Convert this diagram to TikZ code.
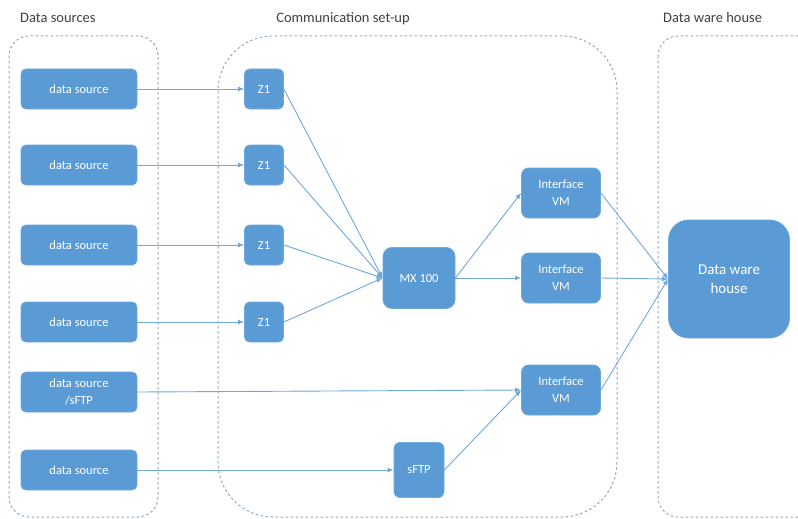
\documentclass[tikz,border=0pt]{standalone}
\usepackage{fontspec}
\setmainfont{Carlito}
\usetikzlibrary{arrows.meta}
\definecolor{boxblue}{HTML}{5B9BD5}
\definecolor{boxedge}{HTML}{6FA8DC}
\definecolor{linkblue}{HTML}{6FA8DC}
\definecolor{frameblue}{HTML}{8EA9C8}
\definecolor{titlegray}{HTML}{404040}
\tikzset{
  frame/.style={draw=frameblue, line width=1pt, dash pattern=on 2.5pt off 2.5pt},
  blockbox/.style={draw=boxedge, fill=boxblue, line width=0.8pt, text=white, align=center,
    inner sep=0pt, font=\fontsize{12.5}{17}\selectfont},
  title/.style={text=titlegray, font=\fontsize{14.5}{16}\selectfont, inner sep=0pt},
  link/.style={draw=linkblue, line width=0.9pt, -{Latex[length=6pt,width=5pt]}},
  plainlink/.style={draw=linkblue, line width=0.9pt}
}
\begin{document}
\begin{tikzpicture}[x=1pt,y=-1pt]
\useasboundingbox (0,0) rectangle (798,519);
\clip (0,0) rectangle (798,519);
% frames
\draw[frame, rounded corners=20pt] (9,36) rectangle (158,517);
\draw[frame, rounded corners=55pt] (218,36) rectangle (617,517);
\draw[frame, rounded corners=20pt] (658,36) rectangle (830,517);
% titles
\node[title, anchor=west] (t1) at (20,18) {Data sources};
\node[title] (t2) at (343,19) {Communication set-up};
\node[title, anchor=west] (t3) at (663,18) {Data ware house};
% data sources
\node[blockbox, rounded corners=5pt, minimum width=116pt, minimum height=40pt] (d1) at (79,89) {data source};
\node[blockbox, rounded corners=5pt, minimum width=116pt, minimum height=40pt] (d2) at (79,165) {data source};
\node[blockbox, rounded corners=5pt, minimum width=116pt, minimum height=40pt] (d3) at (79,245) {data source};
\node[blockbox, rounded corners=5pt, minimum width=116pt, minimum height=40pt] (d4) at (79,322) {data source};
\node[blockbox, rounded corners=5pt, minimum width=116pt, minimum height=40pt] (d5) at (79,392) {data source\\/sFTP};
\node[blockbox, rounded corners=5pt, minimum width=116pt, minimum height=40pt] (d6) at (79,470) {data source};
% Z1
\node[blockbox, rounded corners=5pt, minimum width=39pt, minimum height=40pt] (z1) at (264,89) {Z1};
\node[blockbox, rounded corners=5pt, minimum width=39pt, minimum height=40pt] (z2) at (264,165) {Z1};
\node[blockbox, rounded corners=5pt, minimum width=39pt, minimum height=40pt] (z3) at (264,245) {Z1};
\node[blockbox, rounded corners=5pt, minimum width=39pt, minimum height=40pt] (z4) at (264,322) {Z1};
% MX
\node[blockbox, rounded corners=9pt, minimum width=72pt, minimum height=61pt] (mx) at (419,278) {MX 100};
% Interface VMs
\node[blockbox, rounded corners=7pt, minimum width=79pt, minimum height=50pt] (v1) at (561,193) {Interface\\VM};
\node[blockbox, rounded corners=7pt, minimum width=79pt, minimum height=50pt] (v2) at (561,278) {Interface\\VM};
\node[blockbox, rounded corners=7pt, minimum width=79pt, minimum height=50pt] (v3) at (561,390) {Interface\\VM};
% sFTP
\node[blockbox, rounded corners=6pt, minimum width=50pt, minimum height=55pt] (sf) at (419,470) {sFTP};
% DWH
\node[blockbox, rounded corners=20pt, minimum width=121pt, minimum height=118pt,
  font=\fontsize{15}{19}\selectfont] (dw) at (729,279) {Data ware\\house};
% links
\draw[link] (d1) -- (z1);
\draw[link] (d2) -- (z2);
\draw[link] (d3) -- (z3);
\draw[link] (d4) -- (z4);
\draw[link] (z1.east) -- (mx.west);
\draw[link] (z2.east) -- (mx.west);
\draw[link] (z3.east) -- (mx.west);
\draw[link] (z4.east) -- (mx.west);
\draw[link] (mx.east) -- (v1.west);
\draw[link] (mx.east) -- (v2.west);
\draw[link] (d5.east) -- (v3.west);
\draw[link] (d6) -- (sf);
\draw[link] (sf.east) -- (v3.west);
\draw[link] (v1.east) -- (dw.west);
\draw[link] (v2.east) -- (dw.west);
\draw[link] (v3.east) -- (dw.west);
\end{tikzpicture}
\end{document}
